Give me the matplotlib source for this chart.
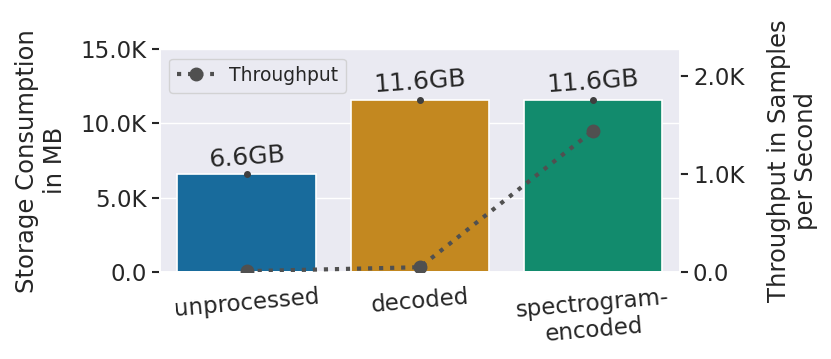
import matplotlib
matplotlib.use("Agg")
import matplotlib.pyplot as plt
import seaborn as sns
import numpy as np
from matplotlib.ticker import FuncFormatter, FixedLocator

sns.set_theme(style="darkgrid")
plt.rcParams['font.family'] = ['DejaVu Sans']

categories = ["unprocessed", "decoded", "spectrogram-\nencoded"]
storage_mb = [6600, 11600, 11600]
bar_labels = ["6.6GB", "11.6GB", "11.6GB"]
throughput = [10, 50, 1440]
bar_colors = ["#186b9c", "#c38820", "#128b6d"]

fig = plt.figure(figsize=(8.31, 3.59), dpi=100)
ax = fig.add_axes([0.1925, 0.242, 0.6255, 0.621])
x = np.arange(len(categories))
ax.bar(x, storage_mb, width=0.8, color=bar_colors, edgecolor="white", linewidth=1.2, zorder=2)
ax.plot(x, storage_mb, linestyle="none", marker="o", markersize=4, color="#3f3f3f", zorder=3)
for xi, v, lab in zip(x, storage_mb, bar_labels):
    ax.text(xi, v + 150, lab, ha="center", va="bottom", fontsize=18, rotation=4, color="#262626")
ax.set_xlim(-0.5, 2.5)
ax.set_ylim(0, 15000)
ax.yaxis.set_major_locator(FixedLocator([0, 5000, 10000, 15000]))
kfmt = FuncFormatter(lambda v, p: "0.0" if v == 0 else f"{v/1000:.1f}K")
ax.yaxis.set_major_formatter(kfmt)
ax.set_xticks(x)
ax.set_xticklabels(categories, rotation=5, fontsize=16.5)
ax.tick_params(axis="y", labelsize=16.5, left=True, length=6, width=1.5, color="#262626",
               labelcolor="#262626")
ax.tick_params(axis="x", labelcolor="#262626")
ax.set_ylabel("Storage Consumption\nin MB", fontsize=17.5, color="#262626", labelpad=10)
ax.grid(axis="x", visible=False)

ax2 = ax.twinx()
ax2.plot(x, throughput, linestyle=":", linewidth=3, marker="o", markersize=9,
         color="#505050", label="Throughput", zorder=4)
ax2.set_ylim(0, 2270)
ax2.yaxis.set_major_locator(FixedLocator([0, 1000, 2000]))
ax2.yaxis.set_major_formatter(kfmt)
ax2.grid(False)
ax2.tick_params(axis="y", labelsize=16.5, right=True, length=6, width=1.5, color="#262626",
                labelcolor="#262626")
ax2.set_ylabel("Throughput in Samples\nper Second", fontsize=17.5, color="#262626", labelpad=16)
ax2.legend(loc="upper left", fontsize=13.5, frameon=True)

fig.savefig("out.png", dpi=100)
